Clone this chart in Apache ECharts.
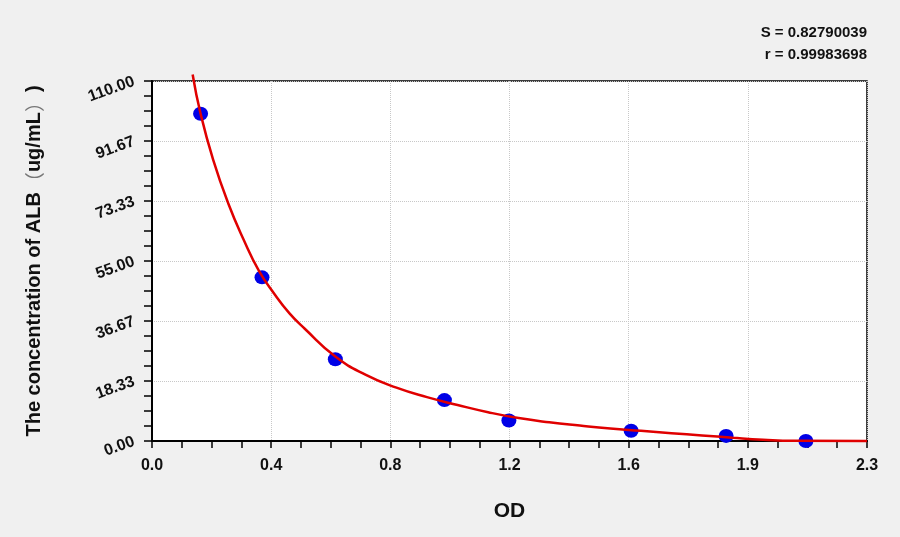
<!DOCTYPE html>
<html>
<head>
<meta charset="utf-8">
<script src="https://cdn.jsdelivr.net/npm/echarts@6/dist/echarts.min.js"></script>
<style>
  html, body { margin: 0; padding: 0; background: #f0f0f0; }
  #main { width: 900px; height: 537px; }
</style>
</head>
<body>
<div id="main"></div>
<script>
// standard points
const odValues = [0.159, 0.36, 0.6, 0.957, 1.168, 1.568, 1.879, 2.14]
const concValues = [100, 50, 25, 12.5, 6.25, 3.125, 1.56, 0]

// fitted curve
const curveOd = [0.133, 0.159, 0.2, 0.25, 0.3, 0.35, 0.4, 0.45, 0.5, 0.6, 0.7, 0.8, 0.9, 1.0, 1.1, 1.2, 1.3, 1.4, 1.5, 1.6, 1.7, 1.8, 1.9, 2.0, 2.1, 2.34]
const curveConc = [112, 100, 86, 72.5, 61.5, 52, 45, 39, 34.3, 25.8, 20.2, 16.3, 13.4, 11.0, 8.8, 7.0, 5.7, 4.7, 3.8, 3.1, 2.4, 1.7, 1.0, 0.4, 0.05, 0]

const xTickLabels = ['0.0', '0.4', '0.8', '1.2', '1.6', '1.9', '2.3']
const yTickLabels = ['0.00', '18.33', '36.67', '55.00', '73.33', '91.67', '110.00']

const statLines = ['S = 0.82790039', 'r = 0.99983698']

const xStep = 0.39
const yStep = 110 / 6
const font = 'Liberation Sans, Arial, Noto Sans CJK SC, sans-serif'

const chart = echarts.init(document.getElementById('main'))

const option = {
    backgroundColor: '#f0f0f0',
    animation: false,
    graphic: [
        {
            type: 'text',
            right: 33,
            top: 22,
            style: {
                text: statLines.join('\n'),
                font: 'bold 15px ' + font,
                fill: '#111',
                textAlign: 'right',
                lineHeight: 22
            }
        }
    ],
    grid: {
        left: 152,
        right: 33,
        top: 81,
        bottom: 96,
        show: true,
        backgroundColor: '#ffffff',
        borderColor: '#000',
        borderWidth: 1.5
    },
    xAxis: {
        type: 'value',
        min: 0,
        max: xStep * 6,
        interval: xStep,
        name: 'OD',
        nameLocation: 'middle',
        nameGap: 60,
        nameTextStyle: { fontFamily: font, fontSize: 21, fontWeight: 'bold', color: '#111' },
        axisLine: { lineStyle: { color: '#000', width: 2 } },
        axisTick: { show: true, length: 7, lineStyle: { color: '#000', width: 1.5 } },
        minorTick: { show: true, splitNumber: 4, length: 7, lineStyle: { color: '#000', width: 1.5 } },
        splitLine: { show: true, lineStyle: { color: '#c8c8c8', type: 'dotted' } },
        axisLabel: {
            fontFamily: font,
            fontSize: 16,
            fontWeight: 'bold',
            color: '#111',
            margin: 17,
            formatter: v => xTickLabels[Math.round(v / xStep)]
        }
    },
    yAxis: {
        type: 'value',
        min: 0,
        max: 110,
        interval: yStep,
        name: '{b|The concentration of ALB}{p|（}{b|ug/mL}{p|）}{b|)}',
        nameLocation: 'middle',
        nameGap: 108,
        nameTextStyle: {
            rich: {
                b: { fontFamily: font, fontSize: 20, fontWeight: 'bold', color: '#111' },
                p: { fontFamily: 'Noto Sans CJK SC', fontSize: 20, fontWeight: 'normal', color: '#777' }
            }
        },
        axisLine: { lineStyle: { color: '#000', width: 2 } },
        axisTick: { show: true, length: 8, lineStyle: { color: '#000', width: 1.5 } },
        minorTick: { show: true, splitNumber: 4, length: 8, lineStyle: { color: '#000', width: 1.5 } },
        splitLine: { show: true, lineStyle: { color: '#c8c8c8', type: 'dotted' } },
        axisLabel: {
            fontFamily: font,
            fontSize: 16,
            fontWeight: 'bold',
            color: '#111',
            rotate: 20,
            margin: 18,
            formatter: v => yTickLabels[Math.round(v / yStep)]
        }
    },
    series: [
        {
            name: 'fit',
            type: 'line',
            data: curveOd.map((x, i) => [x, curveConc[i]]),
            showSymbol: false,
            smooth: 0.5,
            clip: false,
            lineStyle: { color: '#e00000', width: 2.5 },
            z: 3
        },
        {
            name: 'standards',
            type: 'scatter',
            data: odValues.map((x, i) => [x, concValues[i]]),
            symbol: 'circle',
            symbolSize: [15, 14],
            itemStyle: { color: '#0000e6', opacity: 1 },
            z: 2
        }
    ]
}

option && chart.setOption(option)
</script>
</body>
</html>
